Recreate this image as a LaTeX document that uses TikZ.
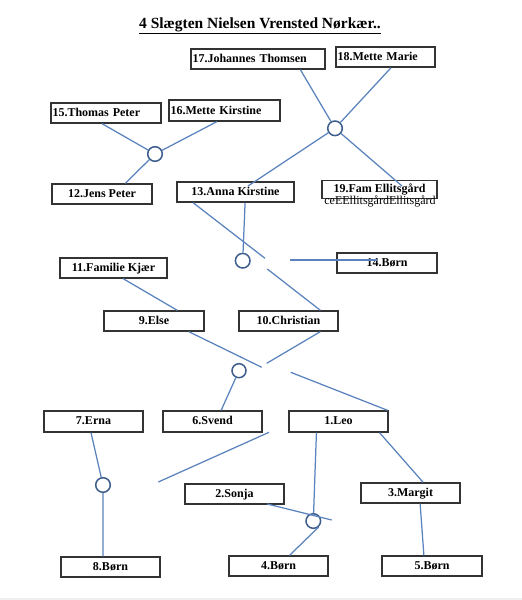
\documentclass[tikz,border=0pt]{standalone}
\usepackage{fontspec}
\setmainfont{Liberation Serif}
\usetikzlibrary{calc}
\definecolor{linec}{HTML}{5A83BD}
\definecolor{ringc}{HTML}{3E5F8E}
\definecolor{boxc}{HTML}{333333}
\newcommand{\lblfont}{\fontsize{12}{14}\selectfont\bfseries}
\newcommand{\lblreg}{\fontsize{12}{14}\selectfont}
\newcommand{\ttlfont}{\fontsize{15.5}{18}\selectfont\bfseries}
\tikzset{
  box/.style={draw=boxc, line width=1.3pt, minimum height=20pt, inner sep=0pt,
    font=\lblfont, text height=8.5pt, text depth=2.5pt},
  lbox/.style={box, align=left, inner xsep=1.5pt},
  ring/.style={circle, draw=ringc, line width=1.5pt, fill=white, minimum size=14.6pt, inner sep=0pt},
  link/.style={draw=linec, line width=1.25pt},
}
\begin{document}
\begin{tikzpicture}[x=1pt,y=-1pt]
\useasboundingbox (0,0) rectangle (522,600);
\fill[gray!12] (0,598) rectangle (522,600);
\node[font=\ttlfont, anchor=base] (title) at (260,28.3) {\underline{4 Slægten Nielsen Vrensted Nørkær..}};

% boxes
\node[lbox, minimum width=134pt, text width=131pt] (n17) at (258,59) {17.Johannes Thomsen};
\node[lbox, minimum width=99pt, text width=96pt, text height=11pt, text depth=4pt] (n18) at (385.5,57) {18.Mette Marie};
\node[lbox, minimum width=110pt, text width=107pt] (n15) at (106,113) {15.Thomas Peter};
\node[lbox, minimum width=111pt, text width=108pt, minimum height=21pt, text height=10pt, text depth=3pt] (n16) at (224.5,110.5) {16.Mette Kirstine};
\node[box, minimum width=100pt] (n12) at (102,194) {12.Jens Peter};
\node[box, minimum width=117pt] (n13) at (235.5,192) {13.Anna Kirstine};
\node[box, minimum width=115pt, minimum height=18pt] (n19) at (379.5,189.5) {19.Fam Ellitsgård};
\node[font=\lblreg, anchor=base, inner sep=0pt] (n19x) at (380,204) {ceEEllitsgårdEllitsgård};
\node[box, minimum width=100pt] (n14) at (387,263) {14.Børn};
\node[box, minimum width=107pt] (n11) at (113.5,268) {11.Familie Kjær};
\node[box, minimum width=100pt] (n9) at (154,321) {9.Else};
\node[box, minimum width=99pt] (n10) at (288.5,321) {10.Christian};
\node[box, minimum width=99pt, minimum height=21pt] (n7) at (93.5,421.5) {7.Erna};
\node[box, minimum width=99pt, minimum height=21pt] (n6) at (212.5,421.5) {6.Svend};
\node[box, minimum width=99pt, minimum height=21pt] (n1) at (338.5,421.5) {1.Leo};
\node[box, minimum width=99pt] (n2) at (234.5,494) {2.Sonja};
\node[box, minimum width=99pt] (n3) at (410.5,493) {3.Margit};
\node[box, minimum width=99pt] (n8) at (110.5,567) {8.Børn};
\node[box, minimum width=99pt] (n4) at (278.5,566) {4.Børn};
\node[box, minimum width=100pt] (n5) at (432,566) {5.Børn};

% rings
\node[ring] (c1) at (155,154) {};
\node[ring] (c2) at (335,128.3) {};
\node[ring] (c3) at (242.7,260.7) {};
\node[ring, minimum size=14pt] (c4) at (239,370.7) {};
\node[ring] (c5) at (103,485) {};
\node[ring] (c6) at (313.3,521) {};

% free ends
\coordinate (g1a) at (265,258.3);
\coordinate (g1b) at (267.3,269);
\coordinate (h14) at (290,260);
\coordinate (g4a) at (261.7,367.3);
\coordinate (g4b) at (266.7,363.3);
\coordinate (g4c) at (290.7,372.3);
\coordinate (s1) at (269,432.3);
\coordinate (s2) at (158.3,482);
\coordinate (s3) at (331.7,520);

% connectors
\draw[link] ($(n15.south west)!0.464!(n15.south east)$) -- (c1);
\draw[link] ($(n16.south west)!0.432!(n16.south east)$) -- (c1);
\draw[link] (c1) -- ($(n12.north west)!0.73!(n12.north east)$);

\draw[link] ($(n17.south west)!0.813!(n17.south east)$) -- (c2);
\draw[link] ($(n18.south west)!0.556!(n18.south east)$) -- (c2);
\draw[link] (c2) -- ($(n13.center)+(12.5,-6)$);
\draw[link] (c2) -- ($(n19.center)+(22.5,-3.5)$);

\draw[link] ($(n13.south west)!0.141!(n13.south east)$) -- (g1a);
\draw[link] (g1b) -- ($(n10.north west)!0.818!(n10.north east)$);
\draw[link] ($(n13.south west)!0.581!(n13.south east)$) -- (c3);
\draw[link] (h14) -- ($(n14.center)+(-10,-3)$);

\draw[link] ($(n11.south west)!0.589!(n11.south east)$) -- ($(n9.north west)!0.73!(n9.north east)$);
\draw[link] ($(n9.south west)!0.843!(n9.south east)$) -- (g4a);
\draw[link] ($(n10.south west)!0.818!(n10.south east)$) -- (g4b);
\draw[link] (c4) -- ($(n6.north west)!0.586!(n6.north east)$);
\draw[link] (g4c) -- ($(n1.north west)!0.99!(n1.north east)$);

\draw[link] ($(n7.south west)!0.475!(n7.south east)$) -- (c5);
\draw[link] (c5) -- ($(n8.north west)!0.424!(n8.north east)$);
\draw[link] (s1) -- (s2);

\draw[link] ($(n1.south west)!0.28!(n1.south east)$) -- (c6);
\draw[link] ($(n2.south west)!0.825!(n2.south east)+(0,-0.7)$) -- (s3);
\draw[link] (c6.-48) -- ($(n4.north west)!0.61!(n4.north east)$);
\draw[link] ($(n1.south west)!0.909!(n1.south east)$) -- ($(n3.north west)!0.626!(n3.north east)$);
\draw[link] ($(n3.south west)!0.596!(n3.south east)$) -- ($(n5.north west)!0.42!(n5.north east)$);
\end{tikzpicture}
\end{document}
